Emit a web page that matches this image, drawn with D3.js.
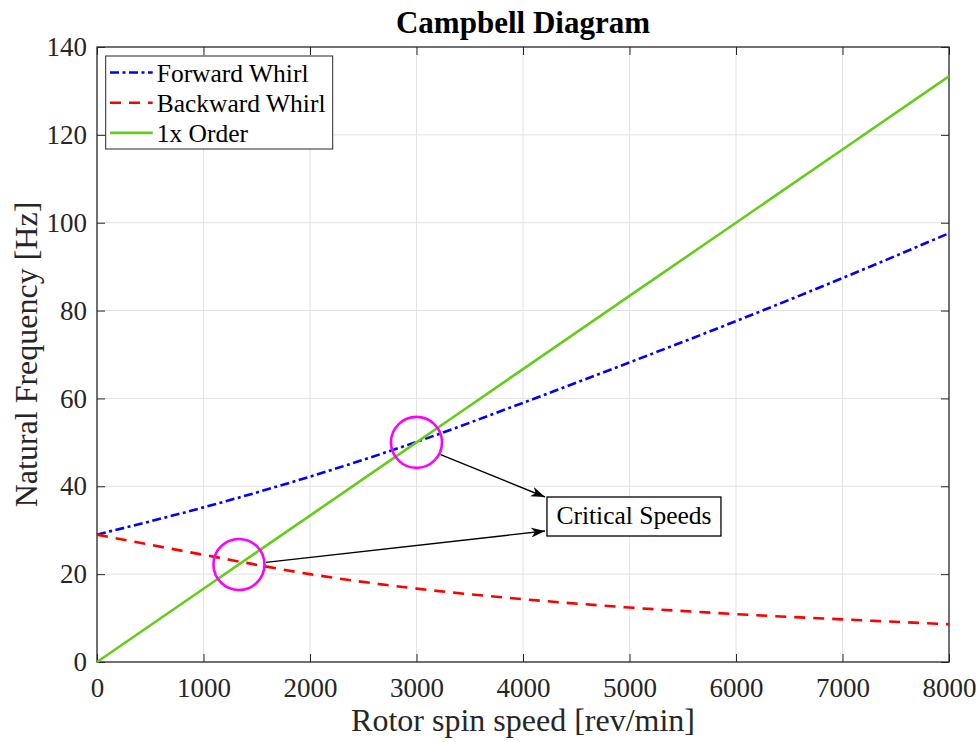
<!DOCTYPE html>
<html>
<head>
<meta charset="utf-8">
<script src="https://cdn.jsdelivr.net/npm/d3@7"></script>
<style>
  body { margin: 0; background: #fff; }
  svg { font-family: "Liberation Serif", "Times New Roman", serif; }
</style>
</head>
<body>
<div id="chart"></div>
<script>
"use strict"

// rotor speed samples (rev/min) and frequencies (Hz)
const speeds = [0, 1000, 2000, 3000, 4000, 5000, 6000, 7000, 8000];
const forwardWhirl = [29, 35.2, 42.2, 50.1, 59, 68.2, 77.6, 87.4, 97.6];
const backwardWhirl = [29, 24.4, 20, 16.7, 14.3, 12.4, 10.9, 9.7, 8.6];
const order1x = [0, 16.67, 33.33, 50, 66.67, 83.33, 100, 116.67, 133.33];

// critical speeds (crossings of whirl lines with 1x order)
const criticalSpeeds = [
    { rpm: 1333, hz: 22.2 },
    { rpm: 3000, hz: 50 }
];

const xTicks = [0, 1000, 2000, 3000, 4000, 5000, 6000, 7000, 8000];
const yTicks = [0, 20, 40, 60, 80, 100, 120, 140];

const series = [
    { name: "Forward Whirl", values: forwardWhirl, color: "#0000ff", dash: "9,3.5,3,3.5" },
    { name: "Backward Whirl", values: backwardWhirl, color: "#ff0000", dash: "11,8" },
    { name: "1x Order", values: order1x, color: "#66cc1a", dash: null }
];

//---------------------------SETUP----------------------------//
const width = 980, height = 742;
const margin = { left: 97, right: 31, top: 47, bottom: 80 };
const plotW = width - margin.left - margin.right;
const plotH = height - margin.top - margin.bottom;

const svg = d3.select("#chart").append("svg")
    .attr("width", width)
    .attr("height", height);

const xScale = d3.scaleLinear().domain([0, 8000]).range([0, plotW]);
const yScale = d3.scaleLinear().domain([0, 140]).range([plotH, 0]);

const g = svg.append("g")
    .attr("transform", `translate(${margin.left},${margin.top})`);

//---------------------------GRID-----------------------------//
g.append("g")
    .selectAll("line")
    .data(xTicks.slice(1, -1))
    .join("line")
    .attr("x1", d => xScale(d)).attr("x2", d => xScale(d))
    .attr("y1", 0).attr("y2", plotH)
    .attr("stroke", "#e3e3e3").attr("stroke-width", 1);

g.append("g")
    .selectAll("line")
    .data(yTicks.slice(1, -1))
    .join("line")
    .attr("x1", 0).attr("x2", plotW)
    .attr("y1", d => yScale(d)).attr("y2", d => yScale(d))
    .attr("stroke", "#e3e3e3").attr("stroke-width", 1);

//---------------------------AXES-----------------------------//
const tickLen = 8;
const styleAxis = sel => {
    sel.select(".domain").remove();
    sel.selectAll(".tick line").attr("stroke", "#262626").attr("stroke-width", 1);
    sel.selectAll(".tick text").attr("fill", "#262626").style("font-size", "27px")
        .style("font-family", "'Liberation Serif', 'Times New Roman', serif");
};

g.append("g")
    .attr("transform", `translate(0,${plotH})`)
    .call(d3.axisBottom(xScale).tickValues(xTicks).tickFormat(d3.format("d"))
        .tickSizeInner(-tickLen).tickSizeOuter(0).tickPadding(16))
    .call(styleAxis);

g.append("g")
    .call(d3.axisTop(xScale).tickValues(xTicks).tickSizeInner(-tickLen).tickSizeOuter(0).tickFormat(""))
    .call(styleAxis);

g.append("g")
    .call(d3.axisLeft(yScale).tickValues(yTicks).tickFormat(d3.format("d"))
        .tickSizeInner(-tickLen).tickSizeOuter(0).tickPadding(10))
    .call(styleAxis);

g.append("g")
    .attr("transform", `translate(${plotW},0)`)
    .call(d3.axisRight(yScale).tickValues(yTicks).tickSizeInner(-tickLen).tickSizeOuter(0).tickFormat(""))
    .call(styleAxis);

// box
g.append("rect")
    .attr("width", plotW).attr("height", plotH)
    .attr("fill", "none").attr("stroke", "#262626").attr("stroke-width", 1.3);

//---------------------------LINES----------------------------//
const line = d3.line()
    .x((d, i) => xScale(speeds[i]))
    .y(d => yScale(d))
    .curve(d3.curveMonotoneX);

series.forEach(s => {
    g.append("path")
        .datum(s.values)
        .attr("d", line)
        .attr("fill", "none")
        .attr("stroke", s.color)
        .attr("stroke-width", 2.6)
        .attr("stroke-dasharray", s.dash);
});

//------------------------ANNOTATIONS-------------------------//
g.selectAll("circle.crit")
    .data(criticalSpeeds)
    .join("circle")
    .attr("class", "crit")
    .attr("cx", d => xScale(d.rpm))
    .attr("cy", d => yScale(d.hz))
    .attr("r", 25.5)
    .attr("fill", "none")
    .attr("stroke", "#ff00ff")
    .attr("stroke-width", 2.6);

svg.append("defs").append("marker")
    .attr("id", "arrow")
    .attr("viewBox", "0 0 14 10")
    .attr("refX", 14).attr("refY", 5)
    .attr("markerWidth", 14).attr("markerHeight", 10)
    .attr("markerUnits", "userSpaceOnUse")
    .attr("orient", "auto")
    .append("path")
    .attr("d", "M0,0 L14,5 L0,10 L4,5 Z")
    .attr("fill", "#000");

// label box position in data units
const labelPos = { rpm: 4225, hz: 37.56 };
const boxX = xScale(labelPos.rpm), boxY = yScale(labelPos.hz);
const boxW = 174, boxH = 39;

const arrows = [
    { from: criticalSpeeds[0], angle: -0.08, to: [boxX - 2, boxY + 34] },
    { from: criticalSpeeds[1], angle: 0.47, to: [boxX - 2, boxY] }
];
arrows.forEach(a => {
    const cx = xScale(a.from.rpm), cy = yScale(a.from.hz);
    g.append("line")
        .attr("x1", cx + 27 * Math.cos(a.angle))
        .attr("y1", cy + 27 * Math.sin(a.angle))
        .attr("x2", a.to[0]).attr("y2", a.to[1])
        .attr("stroke", "#000").attr("stroke-width", 1.4)
        .attr("marker-end", "url(#arrow)");
});

g.append("rect")
    .attr("x", boxX).attr("y", boxY)
    .attr("width", boxW).attr("height", boxH)
    .attr("fill", "#fff").attr("stroke", "#000").attr("stroke-width", 1.3);

g.append("text")
    .attr("x", boxX + boxW / 2).attr("y", boxY + 27)
    .attr("text-anchor", "middle")
    .style("font-size", "25.5px")
    .text("Critical Speeds");

//---------------------------LEGEND---------------------------//
const legend = g.append("g").attr("transform", "translate(8.7,9)");
legend.append("rect")
    .attr("width", 227).attr("height", 93)
    .attr("fill", "#fff").attr("stroke", "#262626").attr("stroke-width", 1);

series.forEach((s, i) => {
    const y = 16.5 + i * 30.2;
    legend.append("line")
        .attr("x1", 4.3).attr("x2", 47)
        .attr("y1", y).attr("y2", y)
        .attr("stroke", s.color).attr("stroke-width", 2.6)
        .attr("stroke-dasharray", s.dash);
    legend.append("text")
        .attr("x", 51).attr("y", y + 9.3)
        .style("font-size", "25.5px")
        .attr("fill", "#000")
        .text(s.name);
});

//---------------------------TITLES---------------------------//
svg.append("text")
    .attr("x", margin.left + plotW / 2).attr("y", 33)
    .attr("text-anchor", "middle")
    .style("font-size", "31px").style("font-weight", "bold")
    .text("Campbell Diagram");

svg.append("text")
    .attr("x", margin.left + plotW / 2).attr("y", 731)
    .attr("text-anchor", "middle")
    .attr("fill", "#262626")
    .style("font-size", "32px")
    .text("Rotor spin speed [rev/min]");

svg.append("text")
    .attr("transform", `translate(37,${margin.top + plotH / 2}) rotate(-90)`)
    .attr("text-anchor", "middle")
    .attr("fill", "#262626")
    .style("font-size", "32px")
    .text("Natural Frequency [Hz]");
</script>
</body>
</html>
